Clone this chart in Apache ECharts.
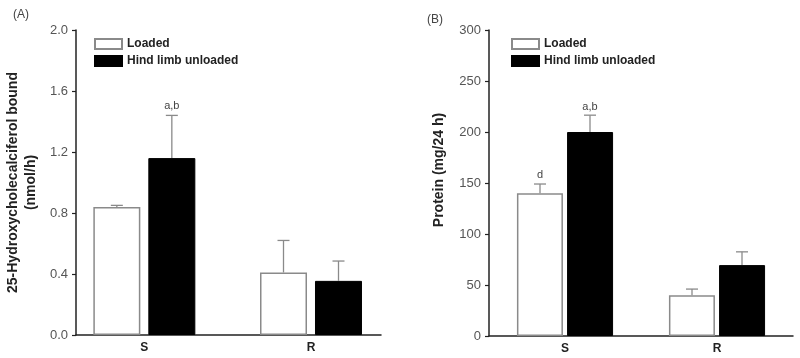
<!DOCTYPE html>
<html><head><meta charset="utf-8">
<script src="https://cdn.jsdelivr.net/npm/echarts@6/dist/echarts.min.js"></script>
<style>html,body{margin:0;padding:0;background:#fff}#c{width:800px;height:358px}</style>
</head><body><div id="c"></div>
<script>
const categories = ['S', 'R'];
const seriesNames = ['Loaded', 'Hind limb unloaded'];
// Panel A: 25-Hydroxycholecalciferol bound (nmol/h)
const aLoaded = [0.84, 0.41];
const aLoadedErr = [0.85, 0.62];
const aUnloaded = [1.16, 0.355];
const aUnloadedErr = [1.44, 0.485];
const aLoadedNotes = ['', ''];
const aUnloadedNotes = ['a,b', ''];
// Panel B: Protein (mg/24 h)
const bLoaded = [140, 40];
const bLoadedErr = [149, 46];
const bUnloaded = [200, 69.5];
const bUnloadedErr = [216.5, 82.5];
const bLoadedNotes = ['d', ''];
const bUnloadedNotes = ['a,b', ''];
const aTicks = {min: 0, max: 2, interval: 0.4};
const bTicks = {min: 0, max: 300, interval: 50};
// Panel A x positions of the two groups (S = 1, R = 2) and axis extent
const aGroupPos = [1, 2];
const aXExtent = {min: 0.59, max: 2.42};

const FONT = 'Liberation Sans, Arial, sans-serif';
const chart = echarts.init(document.getElementById('c'));

function errSeries(idx, xs, vals, errs, notes, offset, gap) {
  return {
    type: 'custom', xAxisIndex: idx, yAxisIndex: idx, z: 5, silent: true,
    data: vals.map((v, i) => [xs[i], v, errs[i]]),
    renderItem: function (params, api) {
      const b = api.coord([api.value(0), api.value(1)]);
      const t = api.coord([api.value(0), api.value(2)]);
      const cx = b[0] + offset;
      const children = [
        {type: 'line', shape: {x1: cx, y1: b[1], x2: cx, y2: t[1]}, style: {stroke: '#8a8a8a', lineWidth: 1.3}},
        {type: 'line', shape: {x1: cx - 6, y1: t[1], x2: cx + 6, y2: t[1]}, style: {stroke: '#8a8a8a', lineWidth: 1.3}}
      ];
      const note = notes[params.dataIndex];
      if (note) {
        children.push({type: 'text', style: {text: note, x: cx, y: t[1] - gap, align: 'center', verticalAlign: 'bottom', fill: '#444', font: '11px ' + FONT}});
      }
      return {type: 'group', children: children};
    }
  };
}

function barSeries(idx, name, data, barW, gapPct) {
  const loaded = name === seriesNames[0];
  return {
    type: 'bar', name: name, xAxisIndex: idx, yAxisIndex: idx, data: data,
    barWidth: barW, barGap: gapPct,
    itemStyle: loaded ? {color: '#fff', borderColor: '#8a8a8a', borderWidth: 1.5} : {color: '#000', borderColor: '#000', borderWidth: 1}
  };
}

const axisLineStyle = {lineStyle: {color: '#222', width: 1.5}};

function yAxis(idx, ticks, name, gap, fmt, pad) {
  return {
    type: 'value', gridIndex: idx, min: ticks.min, max: ticks.max, interval: ticks.interval,
    name: name, nameLocation: 'middle', nameGap: gap, nameRotate: 90,
    nameTextStyle: {fontFamily: FONT, fontWeight: 'bold', fontSize: 14, color: '#222', lineHeight: 18, padding: pad},
    axisLine: Object.assign({show: true}, axisLineStyle),
    axisTick: {show: true, length: 4, lineStyle: {color: '#222', width: 1.2}},
    axisLabel: {fontFamily: FONT, fontSize: 13, color: '#555', margin: 8, formatter: fmt},
    splitLine: {show: false}
  };
}

const xLabelStyle = {fontFamily: FONT, fontSize: 12, fontWeight: 'bold', color: '#222', margin: 7};

chart.setOption({
  animation: false,
  backgroundColor: '#fff',
  graphic: [
    {type: 'text', left: 13, top: 9, style: {text: '(A)', font: '12px ' + FONT, fill: '#444'}},
    {type: 'text', left: 427, top: 14, style: {text: '(B)', font: '12px ' + FONT, fill: '#444'}}
  ],
  legend: [94, 511].map(left => ({
    left: left, top: 38, padding: 0, orient: 'vertical', itemWidth: 27, itemHeight: 10, itemGap: 5,
    icon: 'rect', data: seriesNames, selectedMode: false,
    textStyle: {fontFamily: FONT, fontSize: 12, fontWeight: 'bold', color: '#222'}
  })),
  grid: [
    {left: 76, top: 30, width: 305, height: 305},
    {left: 489, top: 30, width: 304, height: 306}
  ],
  xAxis: [
    {
      type: 'value', gridIndex: 0, min: aXExtent.min, max: aXExtent.max,
      axisLine: Object.assign({show: true}, axisLineStyle), axisTick: {show: false}, splitLine: {show: false},
      axisLabel: Object.assign({customValues: aGroupPos, formatter: v => categories[aGroupPos.indexOf(v)] || ''}, xLabelStyle)
    },
    {
      type: 'category', gridIndex: 1, data: categories,
      axisLine: axisLineStyle, axisTick: {show: false}, axisLabel: xLabelStyle
    }
  ],
  yAxis: [
    yAxis(0, aTicks, '25-Hydroxycholecalciferol bound\n(nmol/h)', 36, v => v.toFixed(1), 0),
    yAxis(1, bTicks, 'Protein (mg/24 h)', 41, v => String(v), [0, 0, 0, 26])
  ],
  series: [
    barSeries(0, seriesNames[0], aLoaded.map((v, i) => [aGroupPos[i], v]), 47, '17%'),
    barSeries(0, seriesNames[1], aUnloaded.map((v, i) => [aGroupPos[i], v]), 47, '17%'),
    errSeries(0, aGroupPos, aLoaded, aLoadedErr, aLoadedNotes, -27.5, 4),
    errSeries(0, aGroupPos, aUnloaded, aUnloadedErr, aUnloadedNotes, 27.5, 4),
    barSeries(1, seriesNames[0], bLoaded, 46, '9%'),
    barSeries(1, seriesNames[1], bUnloaded, 46, '9%'),
    errSeries(1, [0, 1], bLoaded, bLoadedErr, bLoadedNotes, -25, 4),
    errSeries(1, [0, 1], bUnloaded, bUnloadedErr, bUnloadedNotes, 25, 3)
  ]
});
</script>
</body></html>
